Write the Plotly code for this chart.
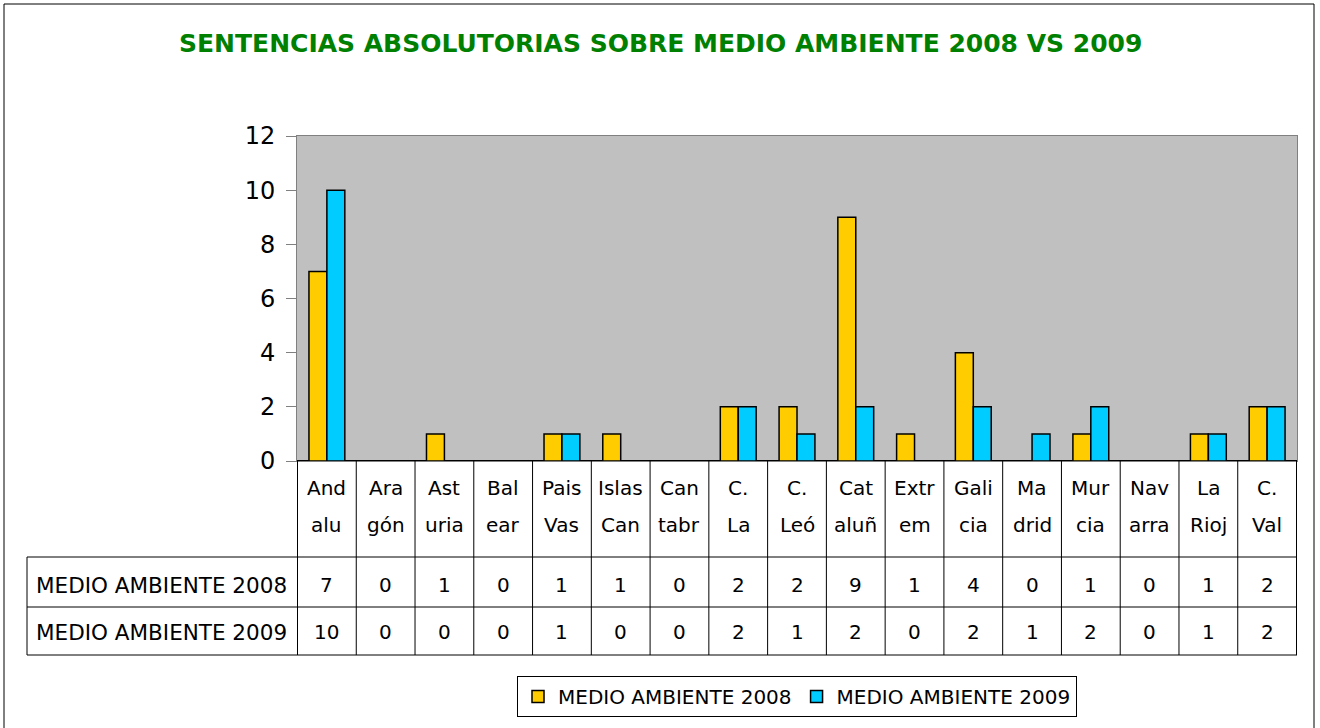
import plotly.graph_objects as go

# ---- data ----
cat_line1 = ["And", "Ara", "Ast", "Bal", "Pais", "Islas", "Can", "C.", "C.", "Cat", "Extr", "Gali", "Ma", "Mur", "Nav", "La", "C."]
cat_line2 = ["alu", "gón", "uria", "ear", "Vas", "Can", "tabr", "La", "Leó", "aluñ", "em", "cia", "drid", "cia", "arra", "Rioj", "Val"]
categories = [a + " " + b for a, b in zip(cat_line1, cat_line2)]
series_names = ["MEDIO AMBIENTE 2008", "MEDIO AMBIENTE 2009"]
values_2008 = [7, 0, 1, 0, 1, 1, 0, 2, 2, 9, 1, 4, 0, 1, 0, 1, 2]
values_2009 = [10, 0, 0, 0, 1, 0, 0, 2, 1, 2, 0, 2, 1, 2, 0, 1, 2]
y_ticks = [0, 2, 4, 6, 8, 10, 12]
title = "SENTENCIAS ABSOLUTORIAS SOBRE MEDIO AMBIENTE 2008 VS 2009"

W, H = 1320, 728
def px(p): return p / W
def py(p): return 1 - p / H

FONT = "DejaVu Sans"
c08, c09 = "#FFCC00", "#00CCFF"

fig = go.Figure()
fig.add_trace(go.Bar(x=categories, y=values_2008, name=series_names[0],
                     marker=dict(color=c08, line=dict(color="black", width=1.5))))
fig.add_trace(go.Bar(x=categories, y=values_2009, name=series_names[1],
                     marker=dict(color=c09, line=dict(color="black", width=1.5))))

n = len(categories)
shapes = []
ann = []
# outer border
shapes.append(dict(type="rect", xref="paper", yref="paper", x0=px(4), x1=px(1314), y0=py(735), y1=py(4),
                   line=dict(color="black", width=1)))
# table lines
y_axis, y_h, y_r1, y_r2 = 461, 557, 607, 655
for i in range(n + 1):
    shapes.append(dict(type="line", xref="x", yref="paper", x0=i - 0.5, x1=i - 0.5,
                       y0=py(y_axis), y1=py(y_r2), line=dict(color="black", width=1)))
for yy in (y_h, y_r1, y_r2):
    shapes.append(dict(type="line", xref="paper", yref="paper", x0=px(27), x1=px(1297),
                       y0=py(yy), y1=py(yy), line=dict(color="black", width=1)))
shapes.append(dict(type="line", xref="paper", yref="paper", x0=px(27), x1=px(27),
                   y0=py(y_h), y1=py(y_r2), line=dict(color="black", width=1)))

fs = 20
for i in range(n):
    for txt, yy in ((cat_line1[i], 488), (cat_line2[i], 525),
                    (str(values_2008[i]), 585), (str(values_2009[i]), 632)):
        ann.append(dict(x=i, xref="x", y=py(yy), yref="paper", text=txt, showarrow=False,
                        font=dict(family=FONT, size=fs, color="black"), xanchor="center", yanchor="middle"))
for name, yy in zip(series_names, (585, 632)):
    ann.append(dict(x=px(34), xref="paper", y=py(yy), yref="paper", text=name, showarrow=False,
                    font=dict(family=FONT, size=21.5, color="black"), xanchor="left", yanchor="middle"))
ann.append(dict(x=px(660), xref="paper", y=py(43), yref="paper", text="<b>" + title + "</b>", showarrow=False,
                font=dict(family="DejaVu Sans", size=25, color="#008000"), xanchor="center", yanchor="middle"))

fig.update_layout(
    width=W, height=H, margin=dict(l=0, r=0, t=0, b=0, autoexpand=False),
    paper_bgcolor="white", plot_bgcolor="#C0C0C0",
    barmode="group", bargap=0.39, bargroupgap=0,
    shapes=shapes, annotations=ann,
    xaxis=dict(domain=[px(297), px(1297)], showticklabels=False, ticks="", showgrid=False,
               showline=True, linecolor="#808080", mirror=True, zeroline=False, automargin=False),
    yaxis=dict(domain=[py(461), py(136)], range=[0, 12], tickvals=y_ticks, ticks="outside",
               ticklen=10, tickcolor="#808080", showgrid=False, showline=True, linecolor="#808080",
               mirror=True, zeroline=True, zerolinecolor="black", zerolinewidth=1.5, automargin=False,
               tickfont=dict(family=FONT, size=24, color="black"), ticklabelstandoff=6),
    legend=dict(orientation="h", x=px(517), y=py(676), xanchor="left", yanchor="top",
                bordercolor="black", borderwidth=1, bgcolor="white",
                font=dict(family=FONT, size=20, color="black"), traceorder="normal"),
    showlegend=True,
)
fig.write_html("out.html", config={"displayModeBar": False},
               post_script="document.body.style.margin='0';")
